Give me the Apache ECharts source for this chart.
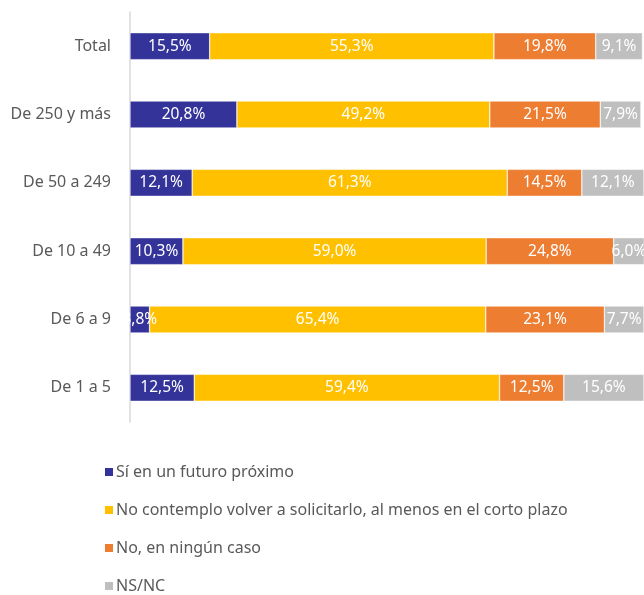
<!DOCTYPE html>
<html>
<head>
<meta charset="utf-8">
<script src="https://cdn.jsdelivr.net/npm/echarts@6/dist/echarts.min.js"></script>
<style>
  html, body { margin: 0; padding: 0; background: #fff; }
  #chart { width: 644px; height: 595px; }
</style>
</head>
<body>
<div id="chart"></div>
<script>
  // Categories, top to bottom
  const categories = ["Total", "De 250 y más", "De 50 a 249", "De 10 a 49", "De 6 a 9", "De 1 a 5"];

  const seriesNames = [
    "Sí en un futuro próximo",
    "No contemplo volver a solicitarlo, al menos en el corto plazo",
    "No, en ningún caso",
    "NS/NC"
  ];

  const siProximo = [15.5, 20.8, 12.1, 10.3, 3.8, 12.5];
  const noContemplo = [55.3, 49.2, 61.3, 59.0, 65.4, 59.4];
  const noNingun = [19.8, 21.5, 14.5, 24.8, 23.1, 12.5];
  const nsnc = [9.1, 7.9, 12.1, 6.0, 7.7, 15.6];

  const colors = ["#333399", "#FFC000", "#ED7D31", "#BFBFBF"];
  const font = "Noto Sans";

  const chart = echarts.init(document.getElementById("chart"));

  const fmt = p => p.value.toFixed(1).replace(".", ",") + "%";

  const series = [siProximo, noContemplo, noNingun, nsnc].map((data, i) => ({
    name: seriesNames[i],
    type: "bar",
    stack: "total",
    barWidth: 27,
    data: data,
    itemStyle: { color: colors[i], borderColor: "#fff", borderWidth: 0.5 },
    label: {
      show: true,
      position: "inside",
      color: "#fff",
      fontFamily: font,
      fontSize: 15.5,
      formatter: fmt
    }
  }));

  chart.setOption({
    animation: false,
    color: colors,
    grid: { left: 130, right: 0, top: 12, height: 410 },
    xAxis: {
      type: "value",
      min: 0,
      max: 100,
      show: false
    },
    yAxis: {
      type: "category",
      data: categories,
      inverse: true,
      axisLine: { show: true, lineStyle: { color: "#D9D9D9", width: 1.5 } },
      axisTick: { show: false },
      axisLabel: { color: "#595959", fontFamily: font, fontSize: 16, margin: 19 }
    },
    legend: {
      orient: "vertical",
      left: 103,
      top: 463,
      height: 150,
      padding: 0,
      itemWidth: 10,
      itemHeight: 10,
      itemGap: 20,
      icon: "rect",
      textStyle: { color: "#595959", fontFamily: font, fontSize: 16, lineHeight: 18, padding: [0, 0, 0, -3] },
      data: seriesNames
    },
    series: series
  });
</script>
</body>
</html>
